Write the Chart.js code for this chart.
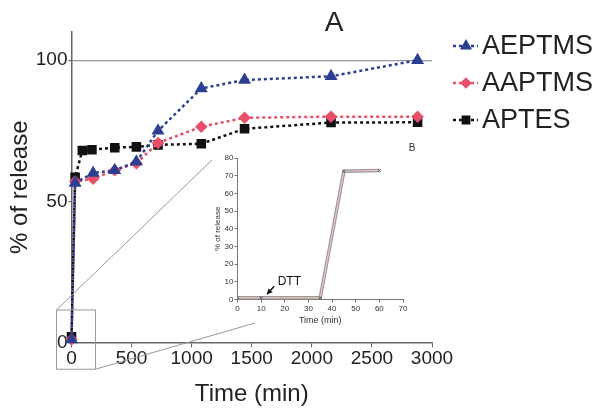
<!DOCTYPE html>
<html>
<head>
<meta charset="utf-8">
<script src="https://cdn.jsdelivr.net/npm/chart.js@4.4.0/dist/chart.umd.min.js"></script>
<style>
  html, body { margin: 0; padding: 0; background: #fff; }
  #wrap { position: relative; width: 601px; height: 419px; }
  #main { position: absolute; left: 0; top: 0; }
  #inset { position: absolute; left: 205px; top: 140px; }
</style>
</head>
<body>
<div id="wrap">
  <canvas id="main" width="601" height="419"></canvas>
  <canvas id="inset" width="220" height="200"></canvas>
</div>
<script>
// panel A: release vs time (min)
var time_min = [0, 30, 180, 360, 540, 720, 1080, 1440, 2160, 2880];
var aeptms = [1, 56.5, 60, 61, 64, 75, 90, 93, 94.3, 100];
var aaptms = [1, 57, 58, 61, 63.5, 70.7, 76.4, 79.6, 80, 80];

var time_aptes = [0, 30, 90, 170, 360, 540, 720, 1080, 1440, 2160, 2880];
var aptes = [2, 58.5, 68, 68.3, 69, 69.3, 70, 70.4, 75.7, 77.9, 78];

var yTicksMain = [0, 50, 100];

// panel B (inset): release after DTT
var time_b = [0, 10, 35, 45, 60];
var release_b = [1, 1, 1, 72.5, 73];

Chart.defaults.font.family = '"Liberation Sans", Arial, sans-serif';
Chart.defaults.color = '#222';

function toXY(xs, ys) {
    return xs.map(function (x, i) { return { x: x, y: ys[i] }; });
}

var decorPlugin = {
    id: 'decor',
    afterDraw: function (chart) {
        var ctx = chart.ctx;
        var xs = chart.scales.x, ys = chart.scales.y;

        // title A
        ctx.save();
        ctx.fillStyle = '#222';
        ctx.font = '28px "Liberation Sans", Arial, sans-serif';
        ctx.textAlign = 'center';
        ctx.textBaseline = 'middle';
        ctx.fillText('A', 334, 23);
        ctx.restore();

        // zoom box around the first minutes + lines to the inset
        var x0 = xs.getPixelForValue(-125), x1 = xs.getPixelForValue(200);
        var y0 = ys.getPixelForValue(11.5), y1 = ys.getPixelForValue(-9.5);
        ctx.save();
        ctx.strokeStyle = '#999';
        ctx.lineWidth = 1;
        ctx.strokeRect(x0, y0, x1 - x0, y1 - y0);
        ctx.beginPath();
        ctx.moveTo(x0, y0);
        ctx.lineTo(212, 160);
        ctx.moveTo(x1, y1);
        ctx.lineTo(255, 323);
        ctx.stroke();
        ctx.restore();

        // legend on the right
        var rows = [46, 83, 120];
        chart.data.datasets.forEach(function (ds, i) {
            var y = rows[i];
            ctx.save();
            ctx.strokeStyle = ds.borderColor;
            ctx.lineWidth = 2.5;
            ctx.setLineDash([3, 3]);
            ctx.beginPath();
            ctx.moveTo(453, y);
            ctx.lineTo(478, y);
            ctx.stroke();
            ctx.setLineDash([]);
            ctx.fillStyle = ds.backgroundColor;
            ctx.strokeStyle = ds.borderColor;
            Chart.helpers.drawPoint(ctx, { pointStyle: ds.pointStyle, radius: ds.pointRadius - 0.5, rotation: 0, borderWidth: 1 }, 466, y);
            ctx.fillStyle = '#222';
            ctx.font = '27px "Liberation Sans", Arial, sans-serif';
            ctx.textBaseline = 'middle';
            ctx.fillText(ds.label, 482, y + 1);
            ctx.restore();
        });
    }
};

new Chart(document.getElementById('main'), {
    type: 'line',
    data: {
        datasets: [
            {
                label: 'AEPTMS', data: toXY(time_min, aeptms),
                borderColor: '#2c3f93', backgroundColor: '#2c3f93',
                borderDash: [3, 3], borderWidth: 2.5,
                pointStyle: 'triangle', pointRadius: 5, clip: false
            },
            {
                label: 'AAPTMS', data: toXY(time_min, aaptms),
                borderColor: '#e8506a', backgroundColor: '#e8506a',
                borderDash: [3, 3], borderWidth: 2.5,
                pointStyle: 'rectRot', pointRadius: 4.5, clip: false
            },
            {
                label: 'APTES', data: toXY(time_aptes, aptes),
                borderColor: '#111', backgroundColor: '#111',
                borderDash: [3, 3], borderWidth: 2.5,
                pointStyle: 'rect', pointRadius: 5, clip: false
            }
        ]
    },
    options: {
        responsive: false,
        animation: false,
        layout: { padding: { top: 32, right: 169, left: 1, bottom: 10 } },
        plugins: { legend: { display: false }, tooltip: { enabled: false } },
        scales: {
            x: {
                type: 'linear', min: 0, max: 3000,
                ticks: {
                    stepSize: 500, maxRotation: 0, padding: 0, font: { size: 19 }, color: '#222',
                    callback: function (v) { return String(v); }
                },
                grid: { drawOnChartArea: false, tickLength: 5, color: '#666' },
                border: { color: '#666', width: 1.5 },
                title: { display: true, text: 'Time (min)', font: { size: 24 }, color: '#222', padding: { top: 10, bottom: 0 } }
            },
            y: {
                min: 0, max: 110,
                afterBuildTicks: function (scale) {
                    scale.ticks = yTicksMain.map(function (v) { return { value: v }; });
                },
                ticks: { padding: 1, font: { size: 19 }, color: '#222' },
                grid: {
                    color: function (c) { return c.tick && c.tick.value === 100 ? '#999' : 'rgba(0,0,0,0)'; },
                    tickColor: '#666', tickLength: 3, lineWidth: 1.2
                },
                border: { color: '#666', width: 1.5 },
                title: { display: true, text: '% of release', font: { size: 24 }, color: '#222', padding: { top: 4.5, bottom: 0.5 } }
            }
        }
    },
    plugins: [decorPlugin]
});

var insetPlugin = {
    id: 'insetDecor',
    afterDraw: function (chart) {
        var ctx = chart.ctx;
        var xs = chart.scales.x, ys = chart.scales.y;
        ctx.save();
        ctx.fillStyle = '#333';
        ctx.font = '10px "Liberation Sans", Arial, sans-serif';
        ctx.textAlign = 'center';
        ctx.textBaseline = 'middle';
        ctx.fillText('B', 207, 8);

        // DTT arrow
        var tx = xs.getPixelForValue(12.5), ty = ys.getPixelForValue(3);
        var sx = xs.getPixelForValue(15.5), sy = ys.getPixelForValue(7.5);
        ctx.strokeStyle = '#111';
        ctx.fillStyle = '#111';
        ctx.lineWidth = 1.5;
        ctx.beginPath();
        ctx.moveTo(sx, sy);
        ctx.lineTo(tx, ty);
        ctx.stroke();
        var a = Math.atan2(ty - sy, tx - sx);
        ctx.beginPath();
        ctx.moveTo(tx, ty);
        ctx.lineTo(tx - 6 * Math.cos(a - 0.5), ty - 6 * Math.sin(a - 0.5));
        ctx.lineTo(tx - 6 * Math.cos(a + 0.5), ty - 6 * Math.sin(a + 0.5));
        ctx.closePath();
        ctx.fill();
        ctx.font = '12px "Liberation Sans", Arial, sans-serif';
        ctx.textAlign = 'left';
        ctx.fillText('DTT', xs.getPixelForValue(17), ys.getPixelForValue(10));
        ctx.restore();
    }
};

new Chart(document.getElementById('inset'), {
    type: 'line',
    data: {
        datasets: [
            {
                label: 'B inner', data: toXY(time_b, release_b), order: 0,
                borderColor: '#efc4c4', backgroundColor: '#555', borderWidth: 1.2,
                pointStyle: 'crossRot', pointRadius: 2, pointBorderColor: '#555', pointBorderWidth: 1
            },
            {
                label: 'B outer', data: toXY(time_b, release_b), order: 1,
                borderColor: '#9a9a9a', borderWidth: 3.5, pointRadius: 0
            }
        ]
    },
    options: {
        responsive: false,
        animation: false,
        layout: { padding: { top: 18, right: 22, left: 7, bottom: 13 } },
        plugins: { legend: { display: false }, tooltip: { enabled: false } },
        scales: {
            x: {
                type: 'linear', min: 0, max: 70,
                ticks: { stepSize: 10, maxRotation: 0, padding: 1, font: { size: 8 }, color: '#333' },
                grid: { drawOnChartArea: false, tickLength: 3, color: '#777' },
                border: { color: '#777' },
                title: { display: true, text: 'Time (min)', font: { size: 9 }, color: '#333', padding: 1 }
            },
            y: {
                min: 0, max: 80,
                ticks: { stepSize: 10, padding: 1, font: { size: 8 }, color: '#333' },
                grid: { drawOnChartArea: false, tickLength: 3, color: '#777' },
                border: { color: '#777' },
                title: { display: true, text: '% of release', font: { size: 8 }, color: '#333', padding: 1 }
            }
        }
    },
    plugins: [insetPlugin]
});
</script>
</body>
</html>
